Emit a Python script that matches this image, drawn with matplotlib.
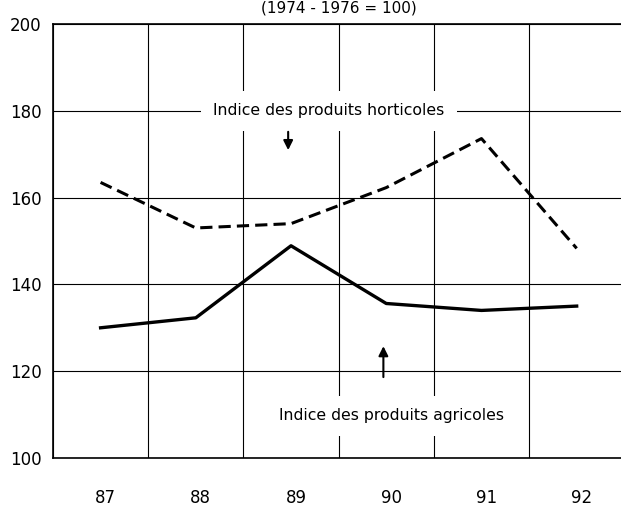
import matplotlib.pyplot as plt
import matplotlib.transforms as mtransforms
import numpy as np

plt.rcParams['font.family'] = ['DejaVu Sans']

annees = np.array([87, 88, 89, 90, 91, 92])
annee_labels = ["87", "88", "89", "90", "91", "92"]
horticoles = np.array([163.5, 153.0, 154.0, 162.3, 173.6, 148.3])
agricoles = np.array([130.0, 132.3, 148.9, 135.6, 134.0, 135.0])

fig = plt.figure(figsize=(6.21, 5.15), dpi=100)
ax = fig.add_axes([0.0853, 0.1107, 0.92, 0.8427])

ax.plot(annees, horticoles, color="black", lw=2.2, linestyle=(0, (4, 2)),
        solid_joinstyle="miter", zorder=4)
ax.plot(annees, agricoles, color="black", lw=2.4, zorder=4)

ax.set_xlim(86.5, 92.5)
ax.set_ylim(100, 200)
ax.set_xticks(annees)
ax.set_xticklabels(annee_labels)
ax.set_xticks(np.arange(86.5, 93, 1), minor=True)
ax.set_yticks([100, 120, 140, 160, 180, 200])
ax.tick_params(axis="both", which="both", length=0, labelsize=12)
ax.tick_params(axis="x", pad=22)
ax.tick_params(axis="y", pad=8)
ax.grid(True, which="minor", axis="x", color="black", lw=0.8)
ax.grid(True, which="major", axis="y", color="black", lw=0.8)
for s in ax.spines.values():
    s.set_linewidth(1.2)
ax.spines["right"].set_visible(False)

# labels sit a bit right of the cell centres
decal = mtransforms.ScaledTranslation(5 / 100, 0, fig.dpi_scale_trans)
for lab in ax.get_xticklabels():
    lab.set_transform(lab.get_transform() + decal)

box = dict(facecolor="white", edgecolor="none", pad=9)
ax.text(89.40, 180.0, "Indice des produits horticoles", ha="center", va="center",
        fontsize=11.3, bbox=box, zorder=3)
ax.text(90.05, 109.7, "Indice des produits agricoles", ha="center", va="center",
        fontsize=11.3, bbox=box, zorder=3)
ax.annotate("", xy=(88.97, 170.3), xytext=(88.97, 175.8),
            arrowprops=dict(arrowstyle="-|>", color="black", lw=1.5,
                            mutation_scale=14), zorder=5)
ax.annotate("", xy=(89.97, 126.4), xytext=(89.97, 118.0),
            arrowprops=dict(arrowstyle="-|>", color="black", lw=1.5,
                            mutation_scale=14), zorder=5)

fig.text(0.545, 0.999, "(1974 - 1976 = 100)", ha="center", va="top", fontsize=11)

fig.savefig("out.png", dpi=100)
